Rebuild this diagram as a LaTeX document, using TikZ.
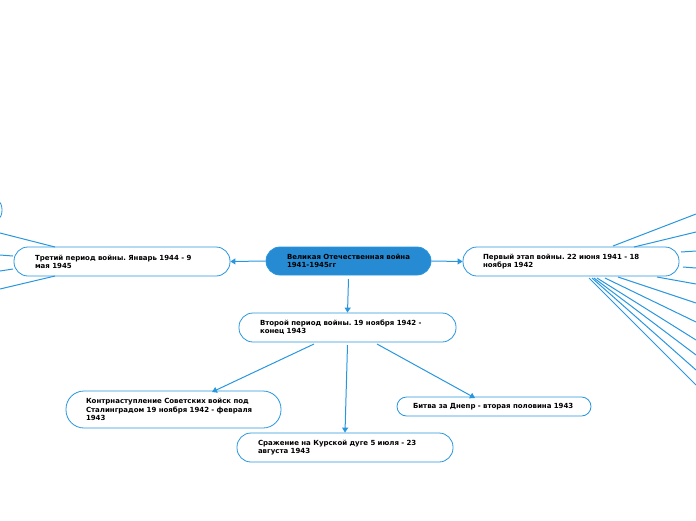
\documentclass[tikz,border=0pt]{standalone}
\usepackage{fontspec}
\setmainfont{DejaVu Sans}
\frenchspacing
\usetikzlibrary{arrows.meta,calc}
\definecolor{lb}{RGB}{40,150,222}
\definecolor{cfill}{RGB}{38,139,210}
\begin{document}
\begin{tikzpicture}[x=1pt,y=-1pt,
  box/.style={draw=lb, line width=0.8pt, fill=white, rounded corners=14pt,
    align=left, inner ysep=2pt, font=\fontsize{7}{8.2}\selectfont\bfseries},
  conn/.style={draw=lb, line width=1pt},
  arr/.style={conn, -{Triangle[length=5pt,width=6pt]}}]
\useasboundingbox (0,0) rectangle (696,520);
\clip (0,0) rectangle (696,520);

\node[box, fill=cfill, minimum width=165pt, minimum height=28pt, inner xsep=21pt, text width=123pt] (c) at (348.5,261) {\mbox{Великая Отечественная война}\\1941-1945гг};
\node[box, minimum width=216pt, minimum height=29pt, inner xsep=21pt, text width=174pt] (l) at (122,261.5) {Третий период войны. Январь 1944 - 9\\мая 1945};
\node[box, minimum width=216pt, minimum height=29pt, inner xsep=20pt, text width=176pt] (r) at (571,261.5) {Первый этап войны. 22 июня 1941 - 18\\ноября 1942};
\node[box, minimum width=217pt, minimum height=29pt, inner xsep=21pt, text width=175pt] (s) at (347.5,327.5) {Второй период войны. 19 ноября 1942 -\\конец 1943};
\node[box, rounded corners=18pt, minimum width=215pt, minimum height=37pt, inner xsep=20pt, text width=175pt] (k) at (173.5,409.5) {Контрнаступление Советских войск под\\Сталинградом 19 ноября 1942 - февраля\\1943};
\node[box, minimum width=216pt, minimum height=29pt, inner xsep=21pt, text width=174pt] (ku) at (345,447.5) {Сражение на Курской дуге 5 июля - 23\\августа 1943};
\node[box, rounded corners=9.5pt, minimum width=194pt, minimum height=19pt, inner xsep=16pt, text width=162pt] (d) at (494,406.5) {Битва за Днепр - вторая половина 1943};
\node[box, minimum width=200pt, minimum height=29pt] (lx) at (-98,210) {};

\draw[arr] (c.west) -- (l.east);
\draw[arr] (c.east) -- (r.west);
\draw[arr] ($(c.center)+(0,18)$) -- (s.north);
\draw[arr] ($(s.center)+(-33.5,16.5)$) -- ($(k.center)+(38.5,-17.5)$);
\draw[arr] ($(s.center)+(0,17.5)$) -- (ku.north);
\draw[arr] ($(s.center)+(29.5,16.5)$) -- ($(d.center)+(-19,-8.5)$);

% right fan
\coordinate (e1) at (696,214);
\coordinate (e2) at (696,232);
\coordinate (e3) at (696,251);
\coordinate (e4) at (696,268);
\coordinate (e5) at (696,284);
\coordinate (e6) at (696,303);
\coordinate (e7) at (696,322);
\coordinate (e8) at (696,340);
\coordinate (e9) at (696,355);
\coordinate (e10) at (696,370);
\coordinate (e11) at (696,385);
\draw[conn] ($(r.center)+(42,-15.5)$) -- (e1);
\draw[conn] ($(r.center)+(63,-14.5)$) -- (e2);
\draw[conn] ($(r.center)+(110,-9.5)$) -- (e3);
\draw[conn] ($(r.center)+(112,5.5)$) -- (e4);
\draw[conn] ($(r.center)+(86,15.5)$) -- (e5);
\draw[conn] ($(r.center)+(47,15.5)$) -- (e6);
\draw[conn] ($(r.center)+(34,16.5)$) -- (e7);
\draw[conn] ($(r.center)+(26,16.5)$) -- (e8);
\draw[conn] ($(r.center)+(23,16.5)$) -- (e9);
\draw[conn] ($(r.center)+(21,16.5)$) -- (e10);
\draw[conn] ($(r.center)+(18,16.5)$) -- (e11);

% left fan
\coordinate (w1) at (0,233);
\coordinate (w2) at (0,255);
\coordinate (w3) at (0,271);
\coordinate (w4) at (0,289);
\draw[conn] ($(l.center)+(-67,-14.5)$) -- (w1);
\draw[conn] ($(l.center)+(-109,-5.5)$) -- (w2);
\draw[conn] ($(l.center)+(-109,7.5)$) -- (w3);
\draw[conn] ($(l.center)+(-67,14.5)$) -- (w4);
\end{tikzpicture}
\end{document}
